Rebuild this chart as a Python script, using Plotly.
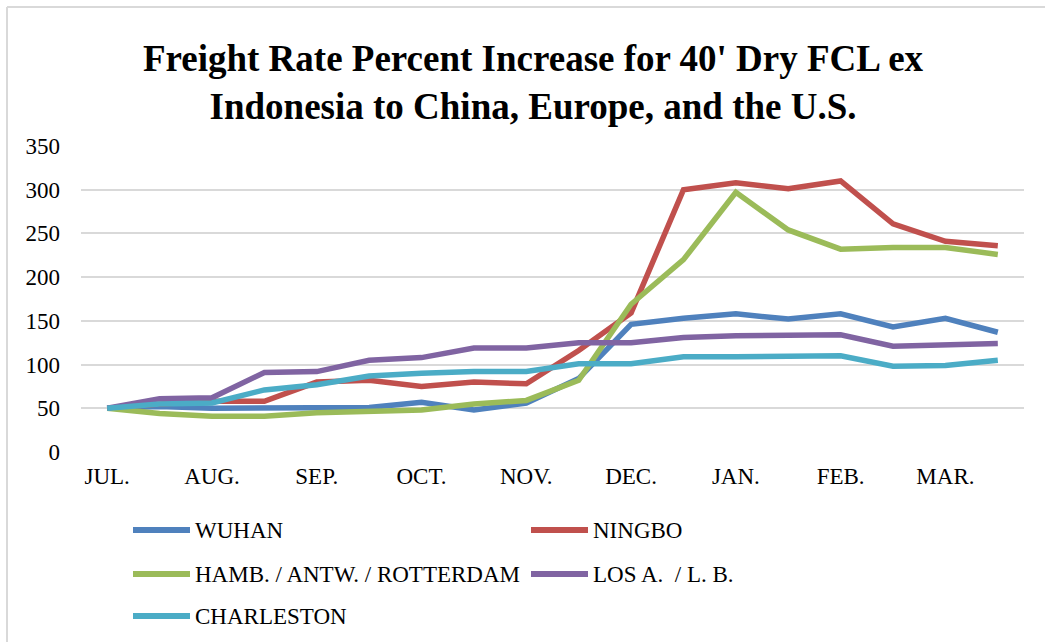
import plotly.graph_objects as go

# ---------------- data ----------------
month_labels = ["JUL.", "AUG.", "SEP.", "OCT.", "NOV.", "DEC.", "JAN.", "FEB.", "MAR."]
periods = list(range(18))  # half-month observations, JUL. .. end of MAR.

wuhan = [50, 52, 50, 50, 50, 51, 57, 48, 56, 84, 146, 153, 158, 152, 158, 143, 153, 137]
ningbo = [50, 55, 58, 58, 80, 82, 75, 80, 78, 116, 159, 300, 308, 301, 310, 261, 241, 236]
hamb = [50, 44, 41, 41, 45, 47, 48, 55, 59, 82, 169, 220, 297, 254, 232, 234, 234, 226]
losa = [50, 61, 62, 91, 92, 105, 108, 119, 119, 125, 125, 131, 133, 134, 134, 121, 123, 124]
charleston = [50, 55, 56, 71, 77, 87, 90, 92, 92, 101, 101, 109, 109, 109, 110, 98, 99, 105]

series_names = ["WUHAN", "NINGBO", "HAMB. / ANTW. / ROTTERDAM", "LOS A.  / L. B.", "CHARLESTON"]
series_values = [wuhan, ningbo, hamb, losa, charleston]
series_colors = ["#4F81BD", "#C0504D", "#9BBB59", "#8064A2", "#4BACC6"]

y_ticks = [0, 50, 100, 150, 200, 250, 300, 350]

# ---------------- layout geometry ----------------
W, H = 1045, 642
ML, MR, MT, MB = 81, 21, 146, 190
PW, PH = W - ML - MR, H - MT - MB
FONT = "Liberation Serif"
GRID = "#D9D9D9"


def px_x(px):
    return (px - ML) / PW


def px_y(py):
    return (H - MB - py) / PH


fig = go.Figure()
for name, vals, col in zip(series_names, series_values, series_colors):
    fig.add_trace(go.Scatter(
        x=periods, y=vals, name=name, mode="lines",
        line=dict(color=col, width=5.5),
        showlegend=False,
    ))

# tick labels every other period (month starts)
tickvals = periods[::2]

fig.update_layout(
    width=W, height=H,
    margin=dict(l=ML, r=MR, t=MT, b=MB),
    paper_bgcolor="white", plot_bgcolor="white",
    font=dict(family=FONT, size=23, color="black"),
    title=dict(
        text="Freight Rate Percent Increase for 40' Dry FCL ex<br>Indonesia to China, Europe, and the U.S.",
        x=533 / W, xanchor="center", xref="container",
        y=1 - 71 / H, yanchor="middle", yref="container",
        font=dict(family=FONT, size=37, color="black", weight="bold"),
    ),
    xaxis=dict(
        range=[-0.5, 17.5], tickmode="array", tickvals=tickvals, ticktext=month_labels,
        showgrid=False, zeroline=False, showline=False, ticks="",
        ticklabelstandoff=8, tickfont=dict(size=23, family=FONT, color="black"),
    ),
    yaxis=dict(
        range=[0, 350], tickmode="array", tickvals=y_ticks,
        showgrid=True, gridcolor=GRID, gridwidth=1.5,
        zeroline=False, showline=False, ticks="",
        ticklabelstandoff=20, tickfont=dict(size=23, family=FONT, color="black"),
    ),
    showlegend=False,
)

shapes = []
annotations = []
# outer chart frame (top and left edges visible)
shapes.append(dict(type="line", xref="paper", yref="paper",
                   x0=px_x(7), x1=px_x(W + 5), y0=px_y(7), y1=px_y(7),
                   line=dict(color=GRID, width=2)))
shapes.append(dict(type="line", xref="paper", yref="paper",
                   x0=px_x(7), x1=px_x(7), y0=px_y(7), y1=px_y(H + 5),
                   line=dict(color=GRID, width=2)))

# manual legend (two columns)
col_x = [133, 531]
row_y = [530, 574, 616]
for i, (name, col) in enumerate(zip(series_names, series_colors)):
    cx = col_x[i % 2]
    cy = row_y[i // 2]
    shapes.append(dict(type="line", xref="paper", yref="paper",
                       x0=px_x(cx), x1=px_x(cx + 57), y0=px_y(cy), y1=px_y(cy),
                       line=dict(color=col, width=6)))
    annotations.append(dict(xref="paper", yref="paper", x=px_x(cx + 60), y=px_y(cy),
                            xanchor="left", yanchor="middle", text=name, showarrow=False,
                            font=dict(family=FONT, size=23, color="black")))

fig.update_layout(shapes=shapes, annotations=annotations)

fig.write_html("out.html")
